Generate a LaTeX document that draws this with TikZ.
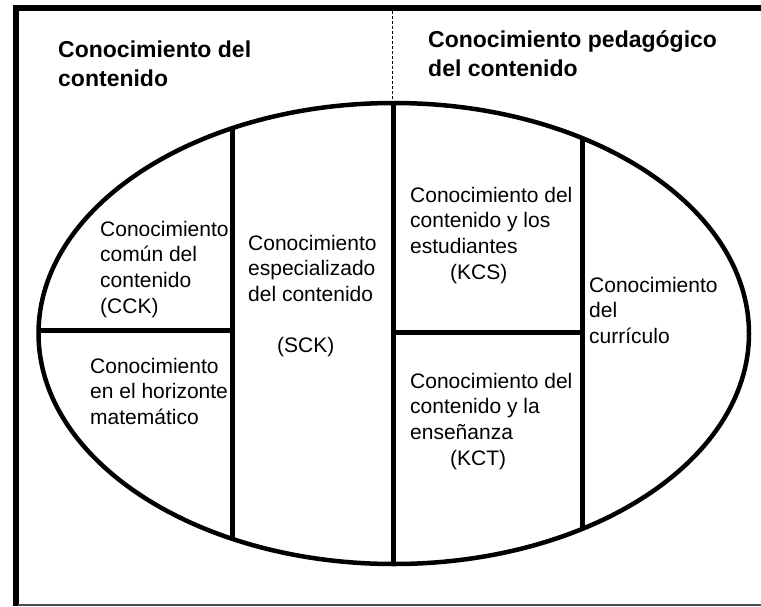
\documentclass[tikz,border=0pt]{standalone}
\usepackage{fontspec}
\setmainfont{Liberation Sans}
\newcommand\mltext[1]{\begin{tabular}[t]{@{}l@{}}#1\end{tabular}}
\begin{document}
\begin{tikzpicture}[x=1pt,y=-1pt,
  body/.style={font=\fontsize{21}{25.7}\selectfont, anchor=base west, inner sep=0pt},
  head/.style={font=\fontsize{23}{29}\selectfont\bfseries, anchor=base west, inner sep=0pt},
  divider/.style={line width=5pt},
  frame/.style={line width=6pt, line join=miter},
  oval/.style={line width=4.5pt}]
\useasboundingbox (0,0) rectangle (761,606);
\fill[white] (0,0) rectangle (761,606);
% frame
\draw[frame] (761,7.5) -- (15.5,7.5) -- (15.5,606);
\draw[line width=2pt, gray!60!black] (18,604.8) -- (761,604.8);
% dashed separator
\draw[line width=0.8pt, dash pattern=on 3pt off 2pt] (392,10.5) -- (392,103);
% partitions clipped by the oval
\begin{scope}
  \clip (393.75,333.5) ellipse [x radius=355.25, y radius=230.5];
  \draw[divider] (232,90) -- (232,580);
  \draw[divider] (393.5,90) -- (393.5,580);
  \draw[divider] (582,90) -- (582,580);
  \draw[divider] (20,330.5) -- (232,330.5);
  \draw[divider] (393.5,332) -- (582,332);
\end{scope}
\draw[oval] (393.75,333.5) ellipse [x radius=355.25, y radius=230.5];
% headings
\node[head] (hcc) at (58,57) {\mltext{Conocimiento del\\contenido}};
\node[head] (hpc) at (428,47) {\mltext{Conocimiento pedagógico\\del contenido}};
% regions
\node[body] (cck) at (100,236) {\mltext{Conocimiento\\común del\\contenido\\(CCK)}};
\node[body] (sck) at (248,250) {\mltext{Conocimiento\\especializado\\del contenido\\ \\\hspace*{29pt}(SCK)}};
\node[body] (hor) at (90,373) {\mltext{Conocimiento\\en el horizonte\\matemático}};
\node[body] (kcs) at (410,202) {\mltext{Conocimiento del\\contenido y los\\estudiantes\\\hspace*{40pt}(KCS)}};
\node[body] (cur) at (589,292) {\mltext{Conocimiento\\del\\currículo}};
\node[body] (kct) at (410,388) {\mltext{Conocimiento del\\contenido y la\\enseñanza\\\hspace*{40pt}(KCT)}};
\end{tikzpicture}
\end{document}
